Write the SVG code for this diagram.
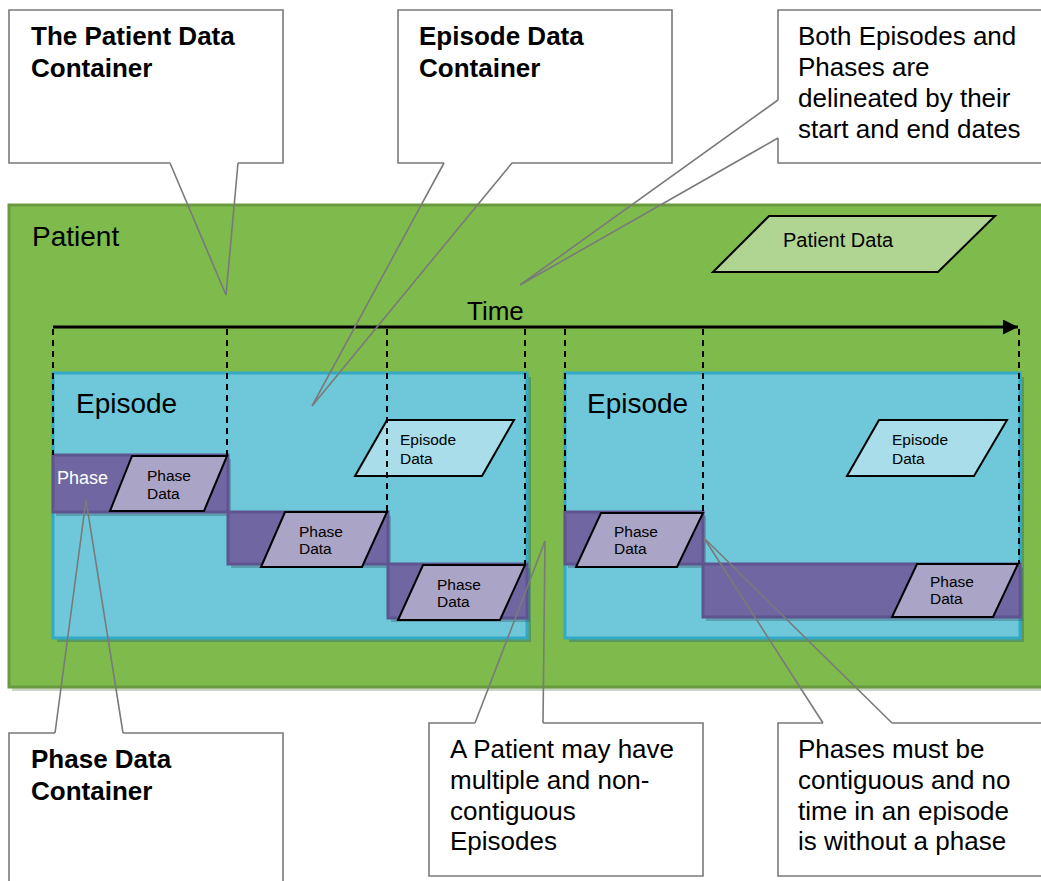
<svg xmlns="http://www.w3.org/2000/svg" width="1041" height="881" viewBox="0 0 1041 881">
  <style>
    text { font-family: "Liberation Sans", Arial, sans-serif; fill: #000; }
    .note { font-size: 26px; }
    .note-b { font-size: 26px; font-weight: bold; }
    .big { font-size: 28px; }
    .small { font-size: 15.5px; }
    .callout { fill: none; stroke: #7a7a7a; stroke-width: 1.6; }
    .pointer { fill: none; stroke: #7a7a7a; stroke-width: 1.6; stroke-linejoin: miter; }
    .patient { fill: #7fba4c; stroke: #6a9a3e; stroke-width: 3; }
    .episode { fill: #6fc8d9; stroke: #33a9c5; stroke-width: 3; }
    .episode-shadow { fill: #2f6e78; opacity: 0.45; }
    .phase { fill: #7066a1; stroke: #5e5590; stroke-width: 3; }
    .phase-shadow { fill: #3d4f66; opacity: 0.35; }
    .phase-data { fill: #aaa4c7; stroke: #000; stroke-width: 2; }
    .episode-data { fill: #a8dde9; stroke: #000; stroke-width: 2; }
    .patient-data { fill: #b0d593; stroke: #000; stroke-width: 2; }
    .dash { stroke: #000; stroke-width: 2; stroke-dasharray: 6 5; fill: none; }
  </style>
  <defs>
    <marker id="arrow" viewBox="0 0 10 10" refX="10" refY="5" markerWidth="5" markerHeight="5" orient="auto" markerUnits="strokeWidth">
      <path d="M0,0 L10,5 L0,10 z" fill="#000"/>
    </marker>
  </defs>

  <rect x="0" y="0" width="1041" height="881" fill="#fff"/>

  <!-- Patient container -->
  <g id="patient">
    <rect x="12" y="209" width="1045" height="482" fill="#a9b99e" opacity="0.6"/>
    <rect class="patient" x="9" y="205" width="1045" height="482"/>
    <text class="big" x="32" y="246">Patient</text>
  </g>

  <g id="patient-data">
    <polygon class="patient-data" points="769,216 995,216 938,272 713,272"/>
    <text x="783" y="247" font-size="20">Patient Data</text>
  </g>

  <!-- Episode 1 -->
  <g id="episode-1">
    <rect class="episode-shadow" x="57" y="377" width="474" height="265"/>
    <rect class="episode" x="53" y="373" width="474" height="265"/>
    <text class="big" x="76" y="413">Episode</text>
  </g>

  <!-- Episode 2 -->
  <g id="episode-2">
    <rect class="episode-shadow" x="569" y="377" width="455" height="265"/>
    <rect class="episode" x="565" y="373" width="455" height="265"/>
    <text class="big" x="587" y="413">Episode</text>
  </g>

  <!-- Phases of episode 1 -->
  <g id="phase-1-1">
    <rect class="phase-shadow" x="56" y="459" width="175" height="57"/>
    <rect class="phase" x="53" y="455" width="175" height="57"/>
    <text x="57" y="484" font-size="18" style="fill:#fff">Phase</text>
    <polygon class="phase-data" points="132,456 227,456 204,511 110,511"/>
    <text class="small" x="147" y="481">Phase</text>
    <text class="small" x="147" y="499">Data</text>
  </g>
  <g id="phase-1-2">
    <rect class="phase-shadow" x="231" y="516" width="160" height="52"/>
    <rect class="phase" x="228" y="512" width="160" height="52"/>
    <polygon class="phase-data" points="285,512 387,512 362,567 261,567"/>
    <text class="small" x="299" y="537">Phase</text>
    <text class="small" x="299" y="554">Data</text>
  </g>
  <g id="phase-1-3">
    <rect class="phase-shadow" x="391" y="568" width="139" height="54"/>
    <rect class="phase" x="388" y="564" width="139" height="54"/>
    <polygon class="phase-data" points="423,565 525,565 500,620 398,620"/>
    <text class="small" x="437" y="590">Phase</text>
    <text class="small" x="437" y="607">Data</text>
  </g>

  <!-- Phases of episode 2 -->
  <g id="phase-2-1">
    <rect class="phase-shadow" x="568" y="516" width="138" height="52"/>
    <rect class="phase" x="565" y="512" width="138" height="52"/>
    <polygon class="phase-data" points="601,513 703,513 677,567 576,567"/>
    <text class="small" x="614" y="537">Phase</text>
    <text class="small" x="614" y="554">Data</text>
  </g>
  <g id="phase-2-2">
    <rect class="phase-shadow" x="706" y="568" width="317" height="53"/>
    <rect class="phase" x="703" y="564" width="317" height="53"/>
    <polygon class="phase-data" points="917,564 1018,564 993,617 892,617"/>
    <text class="small" x="930" y="587">Phase</text>
    <text class="small" x="930" y="604">Data</text>
  </g>

  <!-- Episode data -->
  <g id="episode-data-1">
    <polygon class="episode-data" points="387,420 514,420 482,476 355,476"/>
    <text class="small" x="400" y="445">Episode</text>
    <text class="small" x="400" y="464">Data</text>
  </g>
  <g id="episode-data-2">
    <polygon class="episode-data" points="879,420 1007,420 974,476 847,476"/>
    <text class="small" x="892" y="445">Episode</text>
    <text class="small" x="892" y="464">Data</text>
  </g>

  <!-- Time axis with start/end date markers -->
  <g id="time-axis">
    <line x1="53" y1="327" x2="1018" y2="327" stroke="#000" stroke-width="3" marker-end="url(#arrow)"/>
    <text x="467" y="320" font-size="26">Time</text>
    <line class="dash" x1="53" y1="329" x2="53" y2="455"/>
    <line class="dash" x1="227" y1="329" x2="227" y2="455"/>
    <line class="dash" x1="387" y1="329" x2="387" y2="512"/>
    <line class="dash" x1="525" y1="329" x2="525" y2="564"/>
    <line class="dash" x1="565" y1="329" x2="565" y2="512"/>
    <line class="dash" x1="703" y1="329" x2="703" y2="512"/>
    <line class="dash" x1="1019" y1="329" x2="1019" y2="564"/>
  </g>

  <!-- Callout boxes -->
  <g id="callout-patient-container">
    <rect x="9" y="10" width="274" height="153" fill="#fff"/>
    <path class="callout" d="M170,163 L9,163 L9,10 L283,10 L283,163 L238,163"/>
    <text class="note-b" x="31" y="45">The Patient Data</text>
    <text class="note-b" x="31" y="77">Container</text>
  </g>
  <g id="callout-episode-container">
    <rect x="398" y="10" width="274" height="153" fill="#fff"/>
    <path class="callout" d="M444,163 L398,163 L398,10 L672,10 L672,163 L512,163"/>
    <text class="note-b" x="419" y="45">Episode Data</text>
    <text class="note-b" x="419" y="77">Container</text>
  </g>
  <g id="callout-dates">
    <rect x="778" y="10" width="272" height="153" fill="#fff"/>
    <path class="callout" d="M778,100 L778,10 L1050,10 L1050,163 L778,163 L778,138"/>
    <text class="note" x="798" y="45">Both Episodes and</text>
    <text class="note" x="798" y="76">Phases are</text>
    <text class="note" x="798" y="107">delineated by their</text>
    <text class="note" x="798" y="138">start and end dates</text>
  </g>
  <g id="callout-phase-container">
    <rect x="9" y="733" width="274" height="160" fill="#fff"/>
    <path class="callout" d="M55,733 L9,733 L9,895 M123,733 L283,733 L283,895"/>
    <text class="note-b" x="31" y="768">Phase Data</text>
    <text class="note-b" x="31" y="800">Container</text>
  </g>
  <g id="callout-episodes">
    <rect x="429" y="723" width="274" height="153" fill="#fff"/>
    <path class="callout" d="M475,723 L429,723 L429,876 L703,876 L703,723 L543,723"/>
    <text class="note" x="450" y="758">A Patient may have</text>
    <text class="note" x="450" y="789">multiple and non-</text>
    <text class="note" x="450" y="820">contiguous</text>
    <text class="note" x="450" y="850">Episodes</text>
  </g>
  <g id="callout-phases">
    <rect x="778" y="723" width="272" height="153" fill="#fff"/>
    <path class="callout" d="M823,723 L778,723 L778,876 L1050,876 M892,723 L1050,723"/>
    <text class="note" x="798" y="758">Phases must be</text>
    <text class="note" x="798" y="789">contiguous and no</text>
    <text class="note" x="798" y="820">time in an episode</text>
    <text class="note" x="798" y="850">is without a phase</text>
  </g>

  <!-- Callout pointers -->
  <g id="connectors">
    <path class="pointer" d="M170,163 L226,295 L238,163"/>
    <path class="pointer" d="M444,163 L312,406 L512,163"/>
    <path class="pointer" d="M778,100 L520,285 L778,138"/>
    <path class="pointer" d="M55,733 L86,500 L123,733"/>
    <path class="pointer" d="M475,723 L545,541 L543,723"/>
    <path class="pointer" d="M823,723 L704,538 L892,723"/>
  </g>
</svg>
